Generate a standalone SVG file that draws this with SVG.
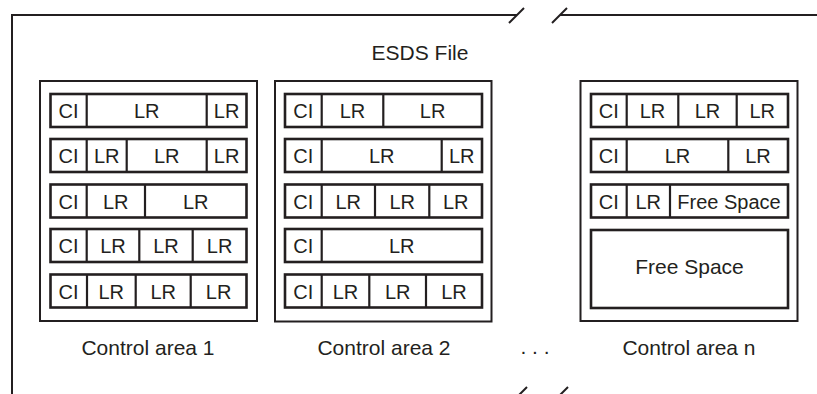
<svg xmlns="http://www.w3.org/2000/svg" width="817" height="394" viewBox="0 0 817 394">
<style>
  .ln { stroke: #231f20; stroke-width: 2; fill: none; }
  .area { stroke: #231f20; stroke-width: 2; fill: #ffffff; }
  .row { stroke: #231f20; stroke-width: 2.6; fill: #ffffff; }
  .dv { stroke: #231f20; stroke-width: 2.2; }
  text { font-family: "Liberation Sans", Arial, sans-serif; font-size: 20px; fill: #231f20; text-anchor: middle; }
  .cap { font-size: 21px; }
</style>
<rect width="817" height="394" fill="#ffffff"/>

<g id="esds-file-frame">
  <path class="ln" d="M12,394 V15 H517"/>
  <path class="ln" d="M560,15 H817"/>
  <path class="ln" d="M509,23 L524,8"/>
  <path class="ln" d="M552,23 L567,8"/>
  <path class="ln" d="M516,398 L527,387"/>
  <path class="ln" d="M557,398 L568,387"/>
  <text class="cap" x="420" y="60">ESDS File</text>
</g>

<g id="control-area-1">
  <rect class="area" x="40" y="81" width="217" height="240"/>
  <rect class="row" x="50.5" y="94" width="196" height="33"/>
  <line class="dv" x1="86.7" y1="94" x2="86.7" y2="127"/>
  <line class="dv" x1="206.7" y1="94" x2="206.7" y2="127"/>
  <text x="68.6" y="118">CI</text><text x="146.7" y="118">LR</text><text x="226.6" y="118">LR</text>

  <rect class="row" x="50.5" y="139" width="196" height="33"/>
  <line class="dv" x1="86.7" y1="139" x2="86.7" y2="172"/>
  <line class="dv" x1="126.7" y1="139" x2="126.7" y2="172"/>
  <line class="dv" x1="206.7" y1="139" x2="206.7" y2="172"/>
  <text x="68.6" y="163">CI</text><text x="106.7" y="163">LR</text><text x="166.7" y="163">LR</text><text x="226.6" y="163">LR</text>

  <rect class="row" x="50.5" y="184.5" width="196" height="33"/>
  <line class="dv" x1="86.7" y1="184.5" x2="86.7" y2="217.5"/>
  <line class="dv" x1="145" y1="184.5" x2="145" y2="217.5"/>
  <text x="68.6" y="208.5">CI</text><text x="115.8" y="208.5">LR</text><text x="195.7" y="208.5">LR</text>

  <rect class="row" x="50.5" y="229" width="196" height="33"/>
  <line class="dv" x1="86.7" y1="229" x2="86.7" y2="262"/>
  <line class="dv" x1="139.3" y1="229" x2="139.3" y2="262"/>
  <line class="dv" x1="192.7" y1="229" x2="192.7" y2="262"/>
  <text x="68.6" y="253">CI</text><text x="113" y="253">LR</text><text x="166" y="253">LR</text><text x="219.6" y="253">LR</text>

  <rect class="row" x="50.5" y="274.5" width="196" height="33"/>
  <line class="dv" x1="87" y1="274.5" x2="87" y2="307.5"/>
  <line class="dv" x1="135.7" y1="274.5" x2="135.7" y2="307.5"/>
  <line class="dv" x1="190.7" y1="274.5" x2="190.7" y2="307.5"/>
  <text x="68.6" y="298.5">CI</text><text x="111.3" y="298.5">LR</text><text x="163.2" y="298.5">LR</text><text x="218.6" y="298.5">LR</text>

  <text class="cap" x="148" y="355">Control area 1</text>
</g>

<g id="control-area-2">
  <rect class="area" x="275" y="81" width="216.5" height="240.5"/>
  <rect class="row" x="285" y="94" width="197" height="33"/>
  <line class="dv" x1="321.7" y1="94" x2="321.7" y2="127"/>
  <line class="dv" x1="383.3" y1="94" x2="383.3" y2="127"/>
  <text x="303.3" y="118">CI</text><text x="352.5" y="118">LR</text><text x="432.6" y="118">LR</text>

  <rect class="row" x="285" y="139" width="197" height="33"/>
  <line class="dv" x1="321.7" y1="139" x2="321.7" y2="172"/>
  <line class="dv" x1="441.7" y1="139" x2="441.7" y2="172"/>
  <text x="303.3" y="163">CI</text><text x="381.7" y="163">LR</text><text x="461.8" y="163">LR</text>

  <rect class="row" x="285" y="184.5" width="197" height="33"/>
  <line class="dv" x1="321.7" y1="184.5" x2="321.7" y2="217.5"/>
  <line class="dv" x1="375" y1="184.5" x2="375" y2="217.5"/>
  <line class="dv" x1="429.3" y1="184.5" x2="429.3" y2="217.5"/>
  <text x="303.3" y="208.5">CI</text><text x="348.3" y="208.5">LR</text><text x="402.2" y="208.5">LR</text><text x="455.7" y="208.5">LR</text>

  <rect class="row" x="285" y="229" width="197" height="33"/>
  <line class="dv" x1="321.7" y1="229" x2="321.7" y2="262"/>
  <text x="303.3" y="253">CI</text><text x="401.8" y="253">LR</text>

  <rect class="row" x="285" y="274.5" width="197" height="33"/>
  <line class="dv" x1="321.7" y1="274.5" x2="321.7" y2="307.5"/>
  <line class="dv" x1="369.3" y1="274.5" x2="369.3" y2="307.5"/>
  <line class="dv" x1="426" y1="274.5" x2="426" y2="307.5"/>
  <text x="303.3" y="298.5">CI</text><text x="345.5" y="298.5">LR</text><text x="397.7" y="298.5">LR</text><text x="454" y="298.5">LR</text>

  <text class="cap" x="384" y="355">Control area 2</text>
</g>

<g id="ellipsis">
  <text class="cap" x="535" y="354">. . .</text>
</g>

<g id="control-area-n">
  <rect class="area" x="580.5" y="81" width="217" height="240"/>
  <rect class="row" x="591" y="94" width="197" height="33"/>
  <line class="dv" x1="626.7" y1="94" x2="626.7" y2="127"/>
  <line class="dv" x1="678.3" y1="94" x2="678.3" y2="127"/>
  <line class="dv" x1="736.7" y1="94" x2="736.7" y2="127"/>
  <text x="608.8" y="118">CI</text><text x="652.5" y="118">LR</text><text x="707.5" y="118">LR</text><text x="762.3" y="118">LR</text>

  <rect class="row" x="591" y="139" width="197" height="33"/>
  <line class="dv" x1="626.7" y1="139" x2="626.7" y2="172"/>
  <line class="dv" x1="728.3" y1="139" x2="728.3" y2="172"/>
  <text x="608.8" y="163">CI</text><text x="677.5" y="163">LR</text><text x="758" y="163">LR</text>

  <rect class="row" x="591" y="184.5" width="197" height="33"/>
  <line class="dv" x1="626.7" y1="184.5" x2="626.7" y2="217.5"/>
  <line class="dv" x1="670" y1="184.5" x2="670" y2="217.5"/>
  <text x="608.8" y="208.5">CI</text><text x="648.3" y="208.5">LR</text><text x="729" y="208.5">Free Space</text>

  <rect class="row" x="591" y="230" width="197" height="78"/>
  <text class="cap" x="689.5" y="274">Free Space</text>

  <text class="cap" x="689" y="355">Control area n</text>
</g>
</svg>
